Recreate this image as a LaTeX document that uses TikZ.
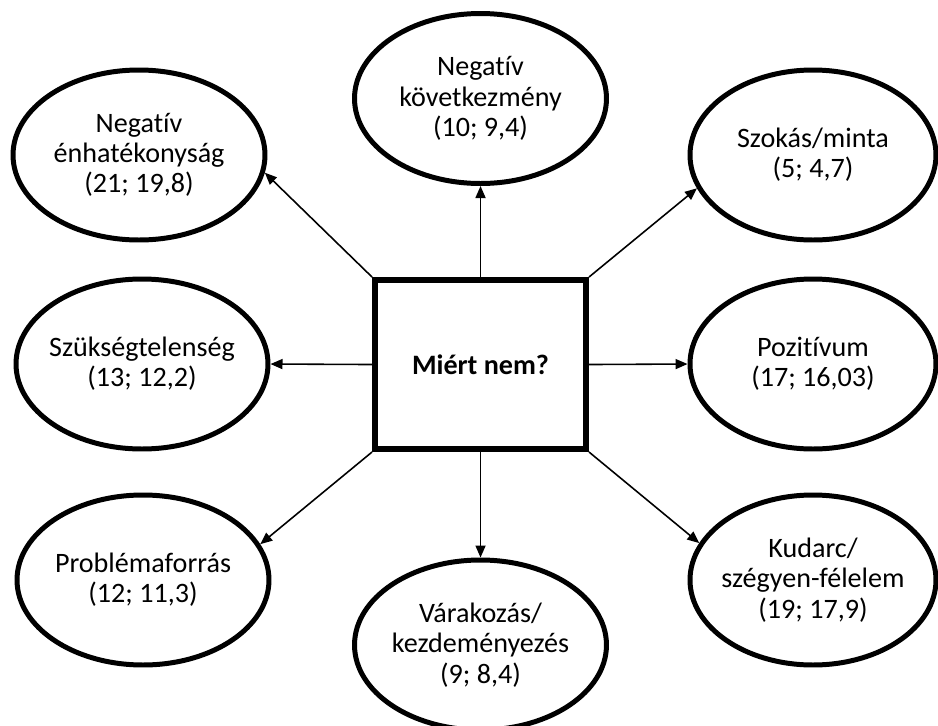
\documentclass[tikz,border=0pt]{standalone}
\usepackage{fontspec}
\setmainfont{Carlito}[Ligatures=NoCommon]
\usetikzlibrary{shapes.geometric,arrows.meta}
\begin{document}
\begin{tikzpicture}[scale=0.1]
\tikzstyle{every node}+=[inner sep=0pt]
\tikzstyle{reason}=[draw=black, line width=1.42pt, ellipse, inner xsep=-2mm, minimum width=25.2mm, minimum height=17mm, align=center, font=\fontsize{8}{8.6}\selectfont]
\tikzstyle{question}=[draw=black, line width=1.7pt, rectangle, minimum width=21.1mm, minimum height=16.9mm, font=\fontsize{8}{8.6}\selectfont\bfseries]
\tikzstyle{link}=[black, line width=0.45pt, -{Triangle[length=1.2mm,width=1mm]}]
\useasboundingbox (0,0) rectangle (93.8,-72.6);
\node [question] (why) at (48.05,-36.45) {Miért nem?};
\node [reason] (ene) at (13.9,-15.5) {Negatív\\énhatékonyság\\(21; 19,8)};
\node [reason] (kov) at (48.05,-9.85) {Negatív\\következmény\\(10; 9,4)};
\node [reason, minimum width=24.6mm] (szok) at (81.3,-15.5) {Szokás/minta\\(5; 4,7)};
\node [reason] (szuk) at (14.2,-36.4) {Szükségtelenség\\(13; 12,2)};
\node [reason, minimum width=24.6mm] (poz) at (81.3,-36.4) {Pozitívum\\(17; 16,03)};
\node [reason] (prob) at (14.3,-58) {Problémaforrás\\(12; 11,3)};
\node [reason] (var) at (48.05,-64.5) {Várakozás/\\kezdeményezés\\(9; 8,4)};
\node [reason, minimum width=24.6mm] (kud) at (81.3,-58) {Kudarc/\\szégyen-félelem\\(19; 17,9)};
\draw [link] (why.north west) -- (ene.-8);
\draw [link] (why.north) -- (kov.south);
\draw [link] (why.north east) -- (szok.196);
\draw [link] (why.west) -- (szuk.east);
\draw [link] (why.east) -- (poz.west);
\draw [link] (why.south west) -- (prob.17);
\draw [link] (why.south) -- (var.north);
\draw [link] (why.south east) -- (kud.162);
\end{tikzpicture}
\end{document}
